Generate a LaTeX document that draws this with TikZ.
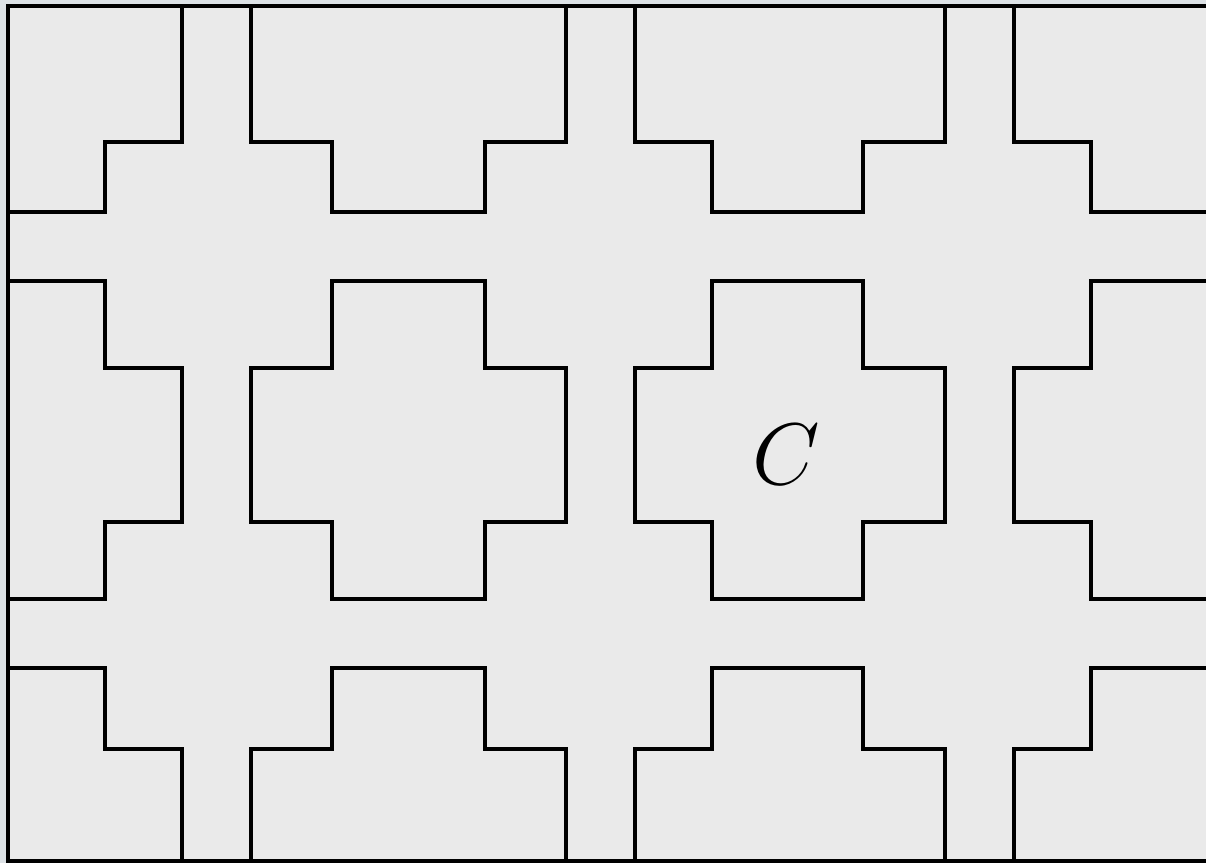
\documentclass[tikz,border=0pt]{standalone}
\usepackage{tikz}

\definecolor{pageback}{HTML}{DDE2E6}
\definecolor{cellback}{HTML}{EAEAEA}

\begin{document}
\begin{tikzpicture}[x=0.01cm,y=-0.01cm,line width=1.15pt]
  \useasboundingbox (0,0) rectangle (1206,863);
  \fill[pageback] (0,0) rectangle (1206,863);
  \fill[cellback] (8,6) rectangle (1206,861);
  % cross shaped cells, cut off by the frame
  \begin{scope}
    \clip (8,6) rectangle (1206,861);
    \foreach \l/\il/\ir/\r in {-131/-50/105/182,251/332/485/566,635/712/863/945,1014/1091/1242/1323} {
      \foreach \t/\it/\ib/\b in {-175/-106/142/212,281/368/522/599,668/749/903/985} {
        \draw (\l,\it) -- (\il,\it) -- (\il,\t) -- (\ir,\t) -- (\ir,\it) -- (\r,\it)
          -- (\r,\ib) -- (\ir,\ib) -- (\ir,\b) -- (\il,\b) -- (\il,\ib) -- (\l,\ib) -- cycle;
      }
    }
  \end{scope}
  \draw[line width=1.4pt] (1206,6) -- (8,6) -- (8,861) -- (1206,861);
  \node (cellC) at (786,455) {\fontsize{27}{30}\selectfont$C$};
\end{tikzpicture}
\end{document}
